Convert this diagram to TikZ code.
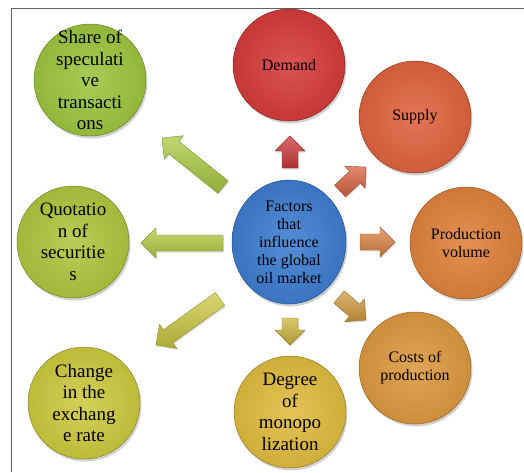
\documentclass[tikz,border=0pt]{standalone}
\usepackage{fontspec}
\setmainfont{Liberation Serif}
\usetikzlibrary{calc,shadows,shapes.geometric}
\definecolor{cShare}{HTML}{9CC53E}
\definecolor{cQuot}{HTML}{AEC63E}
\definecolor{cChange}{HTML}{CCC93F}
\definecolor{cDegree}{HTML}{DFBB3E}
\definecolor{cCosts}{HTML}{DC9940}
\definecolor{cProd}{HTML}{DF823C}
\definecolor{cSupply}{HTML}{DF633E}
\definecolor{cDemand}{HTML}{D53B3B}
\definecolor{cCore}{HTML}{3E7DCF}
\definecolor{aShare}{HTML}{ABCB42}
\definecolor{aQuot}{HTML}{B6C942}
\definecolor{aChange}{HTML}{CBC840}
\definecolor{aDegree}{HTML}{CDB43E}
\definecolor{aCosts}{HTML}{D29A40}
\definecolor{aProd}{HTML}{DB8244}
\definecolor{aSupply}{HTML}{DA6240}
\definecolor{aDemand}{HTML}{CC3A3A}
\definecolor{frameGray}{HTML}{606060}
% block arrow from (#1-tail) to (#1-tip), colour #2
\newcommand\blockarrow[2]{%
  \coordinate (#1-head) at ($(#1-tip)!15pt!(#1-tail)$);
  \path[arr=#2]
    ($(#1-tail)!8pt!90:(#1-tip)$) -- ($(#1-head)!8pt!90:(#1-tip)$)
    -- ($(#1-head)!15pt!90:(#1-tip)$) -- (#1-tip)
    -- ($(#1-head)!15pt!-90:(#1-tip)$) -- ($(#1-head)!8pt!-90:(#1-tip)$)
    -- ($(#1-tail)!8pt!-90:(#1-tip)$) -- cycle;}
\begin{document}
\begin{tikzpicture}[x=1pt,y=-1pt,
  bub/.style={circle, minimum size=112pt, inner sep=0pt,
    draw=#1!65!black, line width=0.5pt,
    inner color=#1!88!white, outer color=#1!93!black,
    drop shadow={opacity=0.35, shadow xshift=1.5pt, shadow yshift=-2.5pt}},
  big/.style={align=center, text=black, inner sep=0pt, font=\fontsize{19}{21.5}\selectfont},
  small/.style={align=center, text=black, inner sep=0pt, font=\fontsize{16}{18}\selectfont},
  arr/.style={top color=#1!75!white, bottom color=#1!85!black,
    draw=#1!70!black, line width=0.4pt,
    drop shadow={opacity=0.25, shadow xshift=1pt, shadow yshift=-1.5pt}},
  frame/.style={draw=frameGray, line width=1pt}]
\useasboundingbox (0,0) rectangle (524,472);
\fill[white] (0,0) rectangle (524,472);
\draw[frame] (11,472) -- (11,8) -- (524,8);

% centre
\node[ellipse, minimum width=114pt, minimum height=124pt, inner sep=0pt,
  draw=cCore!65!black, line width=0.5pt,
  inner color=cCore!88!white, outer color=cCore!93!black,
  drop shadow={opacity=0.35, shadow xshift=1.5pt, shadow yshift=-2.5pt}]
  (core) at (289,242) {};
\node[small] (core-t) at (core) {Factors\\that\\influence\\the global\\oil market};

% outer circles
\node[bub=cShare] (share) at (90,80) {};
\node[big] (share-t) at (share) {Share of\\speculati\\ve\\transacti\\ons};
\node[bub=cQuot] (quot) at (73,242) {};
\node[big] (quot-t) at (quot) {Quotatio\\n of\\securitie\\s};
\node[bub=cChange] (change) at (84,403) {};
\node[big] (change-t) at (change) {Change\\in the\\exchang\\e rate};
\node[bub=cDegree] (degree) at (290,412) {};
\node[big] (degree-t) at (degree) {Degree\\of\\monopo\\lization};
\node[bub=cCosts] (costs) at (415,368) {};
\node[small] (costs-t) at (costs) {Costs of\\production};
\node[bub=cProd] (prod) at (466,243) {};
\node[small] (prod-t) at (prod) {Production\\volume};
\node[bub=cSupply] (supply) at (415,117) {};
\node[small] (supply-t) at (supply) {Supply};
\node[bub=cDemand] (demand) at (289,65) {};
\node[small] (demand-t) at (demand) {Demand};

% arrows
\coordinate (ashare-tail) at (223,187); \coordinate (ashare-tip) at (162,138);
\coordinate (aquot-tail) at (223,243);  \coordinate (aquot-tip) at (141,243);
\coordinate (achange-tail) at (220,299); \coordinate (achange-tip) at (156,345);
\coordinate (adegree-tail) at (290,318); \coordinate (adegree-tip) at (290,345);
\coordinate (acosts-tail) at (339,297); \coordinate (acosts-tip) at (366,320);
\coordinate (aprod-tail) at (360,242);  \coordinate (aprod-tip) at (395,242);
\coordinate (asupply-tail) at (340,191); \coordinate (asupply-tip) at (366,167);
\coordinate (ademand-tail) at (290,168); \coordinate (ademand-tip) at (290,136);
\blockarrow{ashare}{aShare}
\blockarrow{aquot}{aQuot}
\blockarrow{achange}{aChange}
\blockarrow{adegree}{aDegree}
\blockarrow{acosts}{aCosts}
\blockarrow{aprod}{aProd}
\blockarrow{asupply}{aSupply}
\blockarrow{ademand}{aDemand}
\end{tikzpicture}
\end{document}
